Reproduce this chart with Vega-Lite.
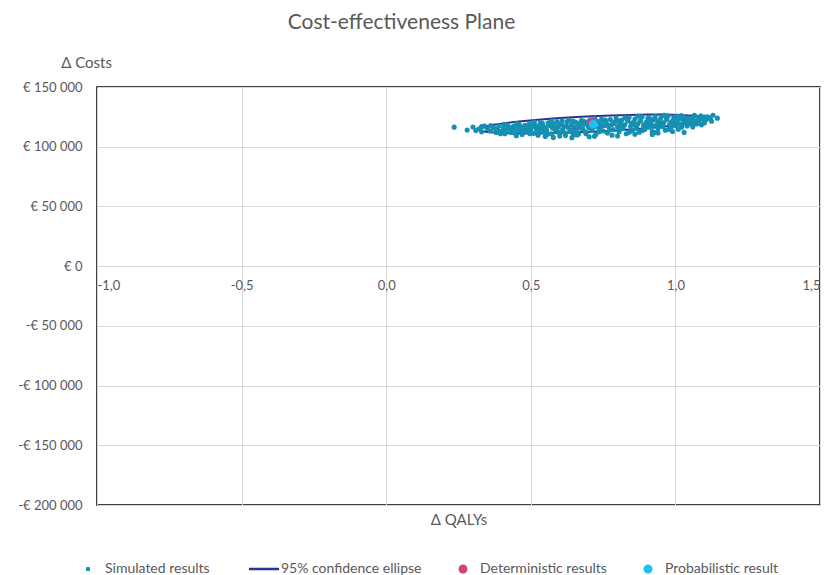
{
  "$schema": "https://vega.github.io/schema/vega-lite/v6.json",
  "autosize": {"type": "none"},
  "width": 723,
  "height": 418,
  "padding": {"left": 97, "top": 87, "right": 10, "bottom": 70},
  "background": "#ffffff",
  "title": {
    "text": "Cost-effectiveness Plane",
    "fontSize": 21,
    "fontWeight": "normal",
    "font": "Lato",
    "color": "#595959",
    "anchor": "middle",
    "dx": -57,
    "offset": 22
  },
  "config": {
    "locale": {
      "number": {"decimal": ",", "thousands": "\u00a0", "grouping": [3], "currency": ["€\u00a0", ""], "minus": "-"}
    },
    "font": "Lato",
    "view": {"stroke": "#000000", "strokeWidth": 1.5},
    "axis": {
      "labelFont": "Lato",
      "labelFontSize": 13,
      "labelColor": "#595959",
      "titleFont": "Lato",
      "titleFontSize": 15,
      "titleFontWeight": "normal",
      "titleColor": "#595959",
      "gridColor": "#d9d9d9",
      "gridWidth": 1,
      "ticks": false,
      "domain": false
    },
    "legend": {
      "labelFont": "Lato",
      "labelFontSize": 14,
      "labelColor": "#595959"
    }
  },
  "datasets": {
    "ellipse": [
      {"o": 0, "q": 1.100, "c": 123500}, {"o": 1, "q": 1.094, "c": 124560}, {"o": 2, "q": 1.077, "c": 125450},
      {"o": 3, "q": 1.048, "c": 126150}, {"o": 4, "q": 1.009, "c": 126625}, {"o": 5, "q": 0.961, "c": 126870},
      {"o": 6, "q": 0.905, "c": 126880}, {"o": 7, "q": 0.843, "c": 126650}, {"o": 8, "q": 0.778, "c": 126180},
      {"o": 9, "q": 0.710, "c": 125500}, {"o": 10, "q": 0.642, "c": 124620}, {"o": 11, "q": 0.577, "c": 123570},
      {"o": 12, "q": 0.515, "c": 122380}, {"o": 13, "q": 0.459, "c": 121090}, {"o": 14, "q": 0.411, "c": 119730},
      {"o": 15, "q": 0.372, "c": 118350}, {"o": 16, "q": 0.344, "c": 116990}, {"o": 17, "q": 0.326, "c": 115700},
      {"o": 18, "q": 0.320, "c": 114500}, {"o": 19, "q": 0.326, "c": 113440}, {"o": 20, "q": 0.344, "c": 112550},
      {"o": 21, "q": 0.372, "c": 111850}, {"o": 22, "q": 0.411, "c": 111380}, {"o": 23, "q": 0.459, "c": 111130},
      {"o": 24, "q": 0.515, "c": 111120}, {"o": 25, "q": 0.577, "c": 111350}, {"o": 26, "q": 0.642, "c": 111820},
      {"o": 27, "q": 0.710, "c": 112500}, {"o": 28, "q": 0.778, "c": 113380}, {"o": 29, "q": 0.843, "c": 114430},
      {"o": 30, "q": 0.905, "c": 115620}, {"o": 31, "q": 0.961, "c": 116910}, {"o": 32, "q": 1.009, "c": 118270},
      {"o": 33, "q": 1.048, "c": 119650}, {"o": 34, "q": 1.077, "c": 121010}, {"o": 35, "q": 1.094, "c": 122300},
      {"o": 36, "q": 1.100, "c": 123500}
    ],
    "sim": [
      {"q":0.235,"c":116400},{"q":0.28,"c":113900},{"q":0.30,"c":116500},{"q":0.32,"c":114800},{"q":0.33,"c":112600},
      {"q":0.34,"c":117200},{"q":0.35,"c":115000},{"q":0.36,"c":113200},{"q":0.37,"c":116000},{"q":0.38,"c":111800},
      {"q":0.385,"c":114400},{"q":0.39,"c":117600},{"q":0.40,"c":112900},{"q":0.405,"c":115600},{"q":0.41,"c":110800},
      {"q":0.415,"c":113800},{"q":0.42,"c":118100},{"q":0.425,"c":116200},{"q":0.43,"c":112100},{"q":0.435,"c":114900},
      {"q":0.44,"c":117000},{"q":0.445,"c":111400},{"q":0.45,"c":115300},{"q":0.455,"c":113300},{"q":0.46,"c":118600},
      {"q":0.465,"c":116600},{"q":0.47,"c":110300},{"q":0.475,"c":114200},{"q":0.48,"c":117900},{"q":0.485,"c":112700},
      {"q":0.49,"c":115900},{"q":0.495,"c":119200},{"q":0.50,"c":113700},{"q":0.505,"c":116900},{"q":0.51,"c":111200},
      {"q":0.515,"c":118300},{"q":0.52,"c":114600},{"q":0.525,"c":109600},{"q":0.53,"c":117400},{"q":0.535,"c":115200},
      {"q":0.54,"c":119700},{"q":0.545,"c":112400},{"q":0.55,"c":116300},{"q":0.555,"c":113900},{"q":0.56,"c":120100},
      {"q":0.565,"c":117700},{"q":0.57,"c":110900},{"q":0.575,"c":115600},{"q":0.58,"c":118800},{"q":0.585,"c":113100},
      {"q":0.59,"c":121000},{"q":0.595,"c":116700},{"q":0.60,"c":111700},{"q":0.605,"c":119500},{"q":0.61,"c":114400},
      {"q":0.615,"c":117200},{"q":0.62,"c":109300},{"q":0.625,"c":120800},{"q":0.63,"c":115800},{"q":0.635,"c":112900},
      {"q":0.64,"c":118400},{"q":0.645,"c":121500},{"q":0.65,"c":116300},{"q":0.655,"c":113600},{"q":0.66,"c":119900},
      {"q":0.665,"c":110600},{"q":0.67,"c":117500},{"q":0.675,"c":122000},{"q":0.68,"c":114900},{"q":0.685,"c":118900},
      {"q":0.69,"c":112200},{"q":0.695,"c":120600},{"q":0.70,"c":116100},{"q":0.705,"c":122600},{"q":0.71,"c":113800},
      {"q":0.715,"c":119300},{"q":0.72,"c":117000},{"q":0.725,"c":110200},{"q":0.73,"c":121200},{"q":0.735,"c":115400},
      {"q":0.74,"c":119000},{"q":0.745,"c":123100},{"q":0.75,"c":113200},{"q":0.755,"c":117800},{"q":0.76,"c":120300},
      {"q":0.765,"c":111500},{"q":0.77,"c":116500},{"q":0.775,"c":122700},{"q":0.78,"c":118600},{"q":0.785,"c":114300},
      {"q":0.79,"c":120900},{"q":0.795,"c":124000},{"q":0.80,"c":116900},{"q":0.805,"c":112600},{"q":0.81,"c":119600},
      {"q":0.815,"c":122300},{"q":0.82,"c":115200},{"q":0.825,"c":118300},{"q":0.83,"c":110900},{"q":0.835,"c":121600},
      {"q":0.84,"c":124500},{"q":0.845,"c":117100},{"q":0.85,"c":113700},{"q":0.855,"c":120300},{"q":0.86,"c":123200},
      {"q":0.865,"c":116000},{"q":0.87,"c":119100},{"q":0.875,"c":112200},{"q":0.88,"c":122000},{"q":0.885,"c":125000},
      {"q":0.89,"c":117800},{"q":0.895,"c":114700},{"q":0.90,"c":120700},{"q":0.905,"c":123800},{"q":0.91,"c":116400},
      {"q":0.915,"c":119700},{"q":0.92,"c":112800},{"q":0.925,"c":122500},{"q":0.93,"c":125400},{"q":0.935,"c":118300},
      {"q":0.94,"c":115300},{"q":0.945,"c":121300},{"q":0.95,"c":124200},{"q":0.955,"c":117000},{"q":0.96,"c":120200},
      {"q":0.965,"c":113800},{"q":0.97,"c":122900},{"q":0.975,"c":125800},{"q":0.98,"c":118800},{"q":0.985,"c":116000},
      {"q":0.99,"c":121700},{"q":0.995,"c":124600},{"q":1.00,"c":117600},{"q":1.005,"c":120600},{"q":1.01,"c":114600},
      {"q":1.015,"c":123200},{"q":1.02,"c":126000},{"q":1.025,"c":119200},{"q":1.03,"c":121900},{"q":1.04,"c":117300},
      {"q":1.045,"c":124300},{"q":1.05,"c":122100},{"q":1.06,"c":119900},{"q":1.065,"c":125500},{"q":1.07,"c":121200},
      {"q":1.08,"c":123300},{"q":1.09,"c":118300},{"q":1.10,"c":124800},{"q":1.105,"c":122300},{"q":1.11,"c":125100},
      {"q":1.12,"c":123600},{"q":1.125,"c":121400},{"q":1.13,"c":126300},{"q":1.145,"c":123900},
      {"q":0.55,"c":108500},{"q":0.60,"c":108900},{"q":0.66,"c":109800},{"q":0.72,"c":108700},{"q":0.86,"c":110500},
      {"q":0.94,"c":111500},{"q":1.03,"c":112000},
      {"q":0.502,"c":118200},{"q":0.518,"c":115900},{"q":0.533,"c":120200},{"q":0.548,"c":114300},{"q":0.563,"c":118900},
      {"q":0.578,"c":116200},{"q":0.593,"c":112600},{"q":0.608,"c":121800},{"q":0.623,"c":117400},{"q":0.638,"c":114100},
      {"q":0.653,"c":120600},{"q":0.668,"c":115600},{"q":0.683,"c":121300},{"q":0.698,"c":118200},{"q":0.713,"c":115000},
      {"q":0.728,"c":120600},{"q":0.743,"c":116800},{"q":0.758,"c":122400},{"q":0.773,"c":113900},{"q":0.788,"c":119400},
      {"q":0.803,"c":121800},{"q":0.818,"c":117400},{"q":0.833,"c":123300},{"q":0.848,"c":119800},{"q":0.863,"c":115200},
      {"q":0.878,"c":121300},{"q":0.893,"c":118600},{"q":0.908,"c":124600},{"q":0.923,"c":117200},{"q":0.938,"c":121800},
      {"q":0.953,"c":119300},{"q":0.968,"c":125000},{"q":0.983,"c":120300},{"q":0.998,"c":122900},{"q":1.013,"c":118800},
      {"q":1.028,"c":124800},{"q":1.043,"c":120300},{"q":1.058,"c":123400},{"q":1.073,"c":119000},{"q":1.088,"c":125800},
      {"q":0.362,"c":117800},{"q":0.378,"c":114900},{"q":0.392,"c":112300},{"q":0.408,"c":118700},{"q":0.422,"c":115100},
      {"q":0.438,"c":111900},{"q":0.452,"c":119300},{"q":0.468,"c":113600},{"q":0.482,"c":116300},{"q":0.497,"c":110800},
      {"q":0.512,"c":120600},{"q":0.527,"c":113000},{"q":0.541,"c":117900},{"q":0.556,"c":110200},{"q":0.571,"c":121400},
      {"q":0.586,"c":115100},{"q":0.601,"c":118700},{"q":0.616,"c":111900},{"q":0.631,"c":122300},{"q":0.646,"c":109900},
      {"q":0.661,"c":116900},{"q":0.676,"c":119600},{"q":0.691,"c":110800},{"q":0.706,"c":118800},{"q":0.721,"c":123500},
      {"q":0.736,"c":112500},{"q":0.751,"c":121800},{"q":0.766,"c":118100},{"q":0.781,"c":109600},{"q":0.796,"c":121500},
      {"q":0.811,"c":114900},{"q":0.826,"c":124300},{"q":0.841,"c":112200},{"q":0.856,"c":118800},{"q":0.871,"c":125600},
      {"q":0.886,"c":113500},{"q":0.901,"c":118200},{"q":0.916,"c":122800},{"q":0.931,"c":111800},{"q":0.946,"c":119000},
      {"q":0.961,"c":126300},{"q":0.976,"c":114400},{"q":0.991,"c":119800},{"q":1.006,"c":125600},{"q":1.021,"c":116400},
      {"q":1.036,"c":122600},{"q":1.051,"c":119000},{"q":1.066,"c":126200},{"q":1.081,"c":120800},{"q":1.096,"c":123000},
      {"q":1.116,"c":124500},{"q":0.578,"c":107800},{"q":0.642,"c":107500},{"q":0.702,"c":108300},{"q":0.80,"c":109000},
      {"q":0.92,"c":110300},{"q":0.99,"c":112700},{"q":1.06,"c":116500},{"q":1.10,"c":119800},{"q":0.45,"c":109200},
      {"q":0.395,"c":110900},{"q":0.33,"c":116900},{"q":0.31,"c":113500}
    ],
    "det": [{"q": 0.712, "c": 120500}],
    "prob": [{"q": 0.716, "c": 118900}]
  },
  "encoding": {
    "x": {
      "field": "q", "type": "quantitative",
      "scale": {"domain": [-1, 1.5], "nice": false, "zero": false},
      "axis": {
        "values": [-1, -0.5, 0, 0.5, 1, 1.5],
        "format": ".1f",
        "orient": "bottom",
        "offset": -239,
        "labelPadding": 13,
        "title": "Δ QALYs",
        "titleY": 253,
        "titleBaseline": "middle"
      }
    },
    "y": {
      "field": "c", "type": "quantitative",
      "scale": {"domain": [-200000, 150000], "nice": false, "zero": false},
      "axis": {
        "values": [-200000, -150000, -100000, -50000, 0, 50000, 100000, 150000],
        "format": "$,.0f",
        "labelPadding": 15,
        "title": "Δ Costs",
        "titleAngle": 0,
        "titleX": -11,
        "titleY": -25,
        "titleAlign": "center",
        "titleBaseline": "middle"
      }
    },
    "color": {
      "field": "s", "type": "nominal",
      "scale": {
        "domain": ["Simulated results", "95% confidence ellipse", "Deterministic results", "Probabilistic result"],
        "range": ["#1590b3", "#2e3192", "#d6436e", "#1cc0f2"]
      },
      "legend": {
        "orient": "none",
        "legendX": -16,
        "legendY": 475,
        "direction": "horizontal",
        "title": null,
        "columnPadding": 34,
        "symbolSize": 100,
        "labelOffset": 10,
        "encode": {
          "symbols": {
            "update": {
              "shape": {"signal": "datum.value === '95% confidence ellipse' ? 'stroke' : 'circle'"},
              "size": {"signal": "datum.value === 'Simulated results' ? 20 : datum.value === '95% confidence ellipse' ? 900 : 80"},
              "fill": {"signal": "datum.value === 'Simulated results' ? '#1590b3' : datum.value === 'Deterministic results' ? '#d6436e' : datum.value === 'Probabilistic result' ? '#1cc0f2' : 'transparent'"},
              "stroke": {"signal": "datum.value === '95% confidence ellipse' ? '#2e3192' : 'transparent'"},
              "strokeWidth": {"signal": "datum.value === '95% confidence ellipse' ? 2.5 : 0"},
              "opacity": {"value": 1}
            }
          }
        }
      }
    }
  },
  "layer": [
    {
      "data": {"values": [{"z": 0}]},
      "mark": {"type": "rule", "color": "#000000", "strokeWidth": 1.5},
      "encoding": {"x": {"datum": 0}, "y": null, "color": null}
    },
    {
      "data": {"values": [{"z": 0}]},
      "mark": {"type": "rule", "color": "#000000", "strokeWidth": 1.5},
      "encoding": {"y": {"datum": 0}, "x": null, "color": null}
    },
    {
      "data": {"name": "ellipse"},
      "transform": [{"calculate": "'95% confidence ellipse'", "as": "s"}],
      "mark": {"type": "line", "strokeWidth": 2},
      "encoding": {"order": {"field": "o", "type": "quantitative"}}
    },
    {
      "data": {"name": "sim"},
      "transform": [{"calculate": "'Simulated results'", "as": "s"}],
      "mark": {"type": "point", "filled": true, "opacity": 1, "size": 26}
    },
    {
      "data": {"name": "det"},
      "transform": [{"calculate": "'Deterministic results'", "as": "s"}],
      "mark": {"type": "point", "filled": true, "opacity": 1, "size": 80}
    },
    {
      "data": {"name": "prob"},
      "transform": [{"calculate": "'Probabilistic result'", "as": "s"}],
      "mark": {"type": "point", "filled": true, "opacity": 1, "size": 80}
    }
  ]
}
